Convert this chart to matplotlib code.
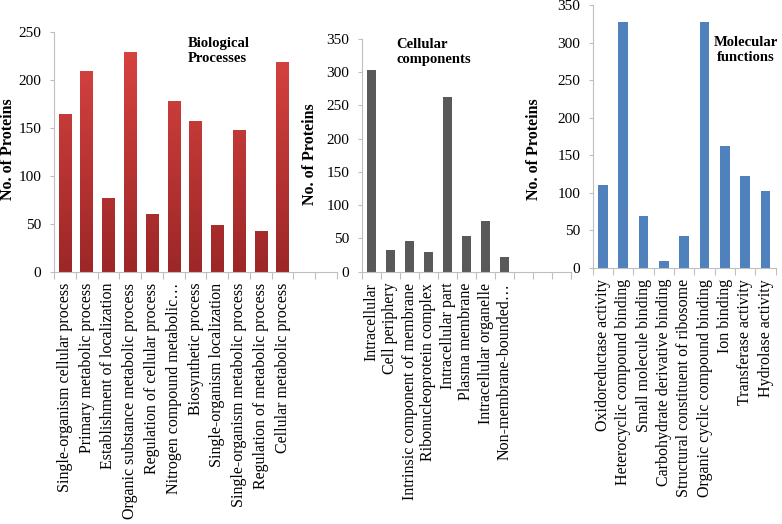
import matplotlib
matplotlib.use('Agg')
import matplotlib.pyplot as plt
from matplotlib.colors import LinearSegmentedColormap
import numpy as np

plt.rcParams['font.family'] = ['Liberation Serif', 'DejaVu Serif']

# Biological processes
bio_cats = ['Single-organism cellular process', 'Primary metabolic process',
            'Establishment of localization', 'Organic substance metabolic process',
            'Regulation of cellular process', 'Nitrogen compound metabolic\u2026',
            'Biosynthetic process', 'Single-organism localization',
            'Single-organism metabolic process', 'Regulation of metabolic process',
            'Cellular metabolic process']
bio_vals = [165, 210, 77, 229, 60, 178, 157, 49, 148, 42, 219]

# Cellular components
cc_cats = ['Intracellular', 'Cell periphery', 'Intrinsic component of membrane',
           'Ribonucleoprotein complex', 'Intracellular part', 'Plasma membrane',
           'Intracellular organelle', 'Non-membrane-bounded\u2026']
cc_vals = [303, 33, 46, 30, 263, 53, 76, 22]

# Molecular functions
mf_cats = ['Oxidoreductase activity', 'Heterocyclic compound binding',
           'Small molecule binding', 'Carbohydrate derivative binding',
           'Structural constituent of ribosome', 'Organic cyclic compound binding',
           'Ion binding', 'Transferase activity', 'Hydrolase activity']
mf_vals = [111, 327, 69, 9, 42, 328, 163, 123, 103]

W, H = 782, 524
fig = plt.figure(figsize=(W / 100, H / 100), dpi=100)

red_grad = LinearSegmentedColormap.from_list('redgrad', ['#9c2727', '#db4542'])


def px_rect(left, right, top, bottom):
    return [left / W, 1 - bottom / H, (right - left) / W, (bottom - top) / H]


def panel(rect, cats, vals, n_slots, ymax, color, width, ylab_xy, gradient=False):
    ax = fig.add_axes(rect)
    x = np.arange(len(cats))
    bars = ax.bar(x, vals, width=width, color=color, zorder=2)
    if gradient:
        # excel style vertical gradient fill
        grad = np.linspace(0, 1, 256).reshape(-1, 1)
        for b in bars:
            b.set_facecolor('none')
            bx = b.get_x()
            im = ax.imshow(grad, cmap=red_grad, origin='lower', aspect='auto',
                           extent=[bx, bx + b.get_width(), 0, ymax], zorder=2)
            im.set_clip_path(b)
    ax.set_xlim(-0.5, n_slots - 0.5)
    ax.set_ylim(0, ymax)
    ax.set_xticks(x)
    ax.set_xticklabels(cats, rotation=90, fontsize=11.5)
    ax.set_xticks(np.arange(n_slots + 1) - 0.5, minor=True)
    ax.tick_params(axis='x', which='major', length=0, pad=8)
    ax.tick_params(axis='x', which='minor', length=5, color='#bfbfbf', width=0.8)
    ax.set_yticks(np.arange(0, ymax + 1, 50))
    ax.tick_params(axis='y', length=3, color='#bfbfbf', width=0.8, pad=6, labelsize=11)
    for s in ['top', 'right']:
        ax.spines[s].set_visible(False)
    for s in ['left', 'bottom']:
        ax.spines[s].set_color('#bfbfbf')
        ax.spines[s].set_linewidth(0.8)
    ax.set_ylabel('No. of Proteins', fontsize=11.5, fontweight='bold')
    ax.yaxis.set_label_coords(*ylab_xy)
    return ax


panel(px_rect(54, 337, 32.3, 271.7), bio_cats, bio_vals, 13, 250, '#c83636', 0.57,
      (-0.133, 0.51), gradient=True)
panel(px_rect(362, 571, 39, 271.7), cc_cats, cc_vals, 11, 350, '#595959', 0.43,
      (-0.21, 0.505))
panel(px_rect(592.7, 775.7, 5, 268), mf_cats, mf_vals, 9, 350, '#4f81bd', 0.48,
      (-0.277, 0.452))

fig.text(188 / W, 1 - 37 / H, 'Biological\nProcesses', fontsize=10.5, fontweight='bold',
         ha='left', va='top', linespacing=1.2)
fig.text(396 / W, 1 - 38 / H, 'Cellular\ncomponents', fontsize=10.5, fontweight='bold',
         ha='left', va='top', linespacing=1.2)
fig.text(746 / W, 1 - 36 / H, 'Molecular\nfunctions', fontsize=10.5, fontweight='bold',
         ha='center', va='top', linespacing=1.2)

fig.savefig('out.png', dpi=100)
